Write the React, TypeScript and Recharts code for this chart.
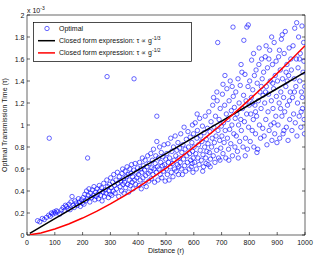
import { ScatterChart, Scatter, XAxis, YAxis, Legend } from "recharts"

const FONT = "'Liberation Sans', Arial, Helvetica, sans-serif"

const distanceTicks = [0, 100, 200, 300, 400, 500, 600, 700, 800, 900, 1000]
const timeTicks = [0, 0.2, 0.4, 0.6, 0.8, 1, 1.2, 1.4, 1.6, 1.8, 2]

const seriesNames = ["Optimal", "Closed form expression: τ ∝ g", "Closed form expression: τ ∝ g"]
const seriesExponents = ["", "-1/3", "-1/2"]
const seriesColors = ["#0000ff", "#000000", "#ff0000"]

// optimal transmission time, in units of 1e-3, by distance
const optimalNear: [number, number][] = [
  [38, 0.13], [46, 0.12], [55, 0.15], [62, 0.14], [70, 0.16], [78, 0.18], [84, 0.17], [88, 0.2], [93, 0.19], [98, 0.21],
  [80, 0.88], [102, 0.2], [106, 0.22], [110, 0.21], [118, 0.19], [125, 0.23], [130, 0.25], [134, 0.22], [138, 0.27],
  [143, 0.26], [148, 0.24], [151, 0.28], [155, 0.23], [158, 0.3], [162, 0.35], [166, 0.27], [170, 0.25], [173, 0.31],
  [177, 0.29], [181, 0.27], [185, 0.33], [189, 0.3], [192, 0.26], [196, 0.32], [199, 0.29],
]
const optimal200: [number, number][] = [
  [202, 0.34], [205, 0.28], [208, 0.37], [211, 0.31], [214, 0.4], [217, 0.33], [218, 0.7], [220, 0.36], [223, 0.42],
  [226, 0.3], [229, 0.38], [232, 0.34], [235, 0.41], [238, 0.36], [241, 0.44], [244, 0.32], [247, 0.39], [249, 0.35],
  [252, 0.42], [254, 0.37], [257, 0.33], [260, 0.45], [262, 0.4], [265, 0.36], [268, 0.43], [270, 0.31], [273, 0.39],
  [276, 0.47], [278, 0.35], [281, 0.41], [284, 0.38], [287, 0.5], [288, 1.44], [290, 0.44], [293, 0.34], [295, 0.4],
  [297, 0.46], [299, 0.37],
]
const optimal300: [number, number][] = [
  [301, 0.52], [303, 0.43], [305, 0.36], [308, 0.48], [310, 0.4], [312, 0.55], [315, 0.45], [317, 0.38], [320, 0.5],
  [322, 0.42], [325, 0.57], [327, 0.47], [330, 0.35], [332, 0.53], [335, 0.44], [337, 0.49], [340, 0.4], [342, 0.56],
  [345, 0.46], [347, 0.51], [349, 0.38], [344, 0.6], [351, 0.48], [353, 0.58], [355, 0.43], [357, 0.53], [360, 0.62],
  [362, 0.46], [364, 0.55], [366, 0.39], [368, 0.5], [370, 0.6], [372, 0.45], [374, 0.56], [376, 0.64], [378, 0.48],
  [380, 0.53], [382, 0.42], [384, 0.59], [385, 1.42], [387, 0.5], [389, 0.65], [391, 0.46], [393, 0.57], [395, 0.52],
  [398, 0.61],
]
const optimal400: [number, number][] = [
  [401, 0.55], [403, 0.45], [405, 0.66], [407, 0.5], [409, 0.6], [411, 0.42], [413, 0.57], [415, 0.7], [417, 0.52],
  [419, 0.63], [421, 0.47], [423, 0.59], [425, 0.68], [427, 0.54], [429, 0.44], [431, 0.62], [434, 0.72], [436, 0.56],
  [438, 0.49], [440, 0.65], [443, 0.58], [445, 0.74], [447, 0.51], [449, 0.61], [451, 0.68], [453, 0.55], [455, 0.78],
  [457, 0.6], [459, 0.48], [461, 0.65], [463, 0.72], [465, 0.57], [467, 0.85], [467, 1.08], [469, 0.62], [471, 0.5],
  [473, 0.7], [475, 0.6], [477, 0.8], [479, 0.55], [481, 0.66], [483, 0.75], [485, 0.52], [487, 0.63], [489, 0.71],
  [491, 0.58], [493, 0.82], [495, 0.64], [497, 0.49], [499, 0.69],
]
const optimal500: [number, number][] = [
  [501, 0.6], [503, 0.74], [505, 0.55], [507, 0.83], [509, 0.66], [511, 0.5], [513, 0.7], [515, 0.62], [517, 0.88],
  [519, 0.57], [521, 0.76], [523, 0.65], [525, 0.53], [527, 0.8], [529, 0.68], [531, 0.6], [533, 0.9], [535, 0.72],
  [537, 0.58], [539, 0.77], [541, 0.64], [543, 0.84], [545, 0.55], [547, 0.7], [549, 0.79], [546, 0.62], [551, 0.66],
  [553, 0.92], [555, 0.6], [557, 0.75], [559, 0.55], [561, 0.82], [563, 0.69], [565, 0.98], [567, 0.63], [569, 0.78],
  [571, 0.58], [573, 0.87], [575, 0.72], [577, 0.66], [579, 0.94], [581, 0.8], [583, 0.6], [585, 0.74], [587, 0.89],
  [589, 0.68], [591, 0.62], [593, 0.84], [595, 1.0], [596, 0.76], [597, 0.57], [598, 0.7], [599, 0.92], [594, 0.65],
]
const optimal600: [number, number][] = [
  [601, 0.8], [603, 0.66], [605, 1.02], [607, 0.74], [609, 0.6], [611, 0.88], [613, 0.95], [615, 0.7], [617, 0.82],
  [619, 0.64], [621, 1.06], [623, 0.77], [625, 0.9], [627, 0.68], [629, 0.85], [631, 0.99], [633, 0.73], [635, 0.62],
  [637, 0.93], [639, 0.8], [641, 1.08], [643, 0.7], [645, 0.87], [647, 0.76], [649, 0.97], [632, 0.58], [644, 0.65],
  [612, 1.1], [651, 0.83], [652, 0.64], [654, 1.12], [656, 0.75], [658, 0.94], [660, 0.69], [662, 1.03], [664, 0.8],
  [666, 0.88], [668, 1.18], [670, 0.72], [672, 0.98], [674, 0.84], [676, 0.66], [678, 1.08], [680, 0.9], [682, 0.77],
  [684, 1.22], [686, 1.75], [687, 0.95], [689, 0.7], [691, 1.05], [693, 0.86], [695, 1.15], [697, 0.79], [699, 0.99],
  [683, 1.3], [671, 1.25], [659, 0.62], [694, 0.68],
]
const optimal700: [number, number][] = [
  [701, 0.9], [703, 1.28], [705, 0.74], [705, 1.37], [707, 1.02], [709, 0.84], [711, 1.18], [713, 0.95], [715, 0.7],
  [717, 1.1], [719, 1.33], [721, 0.88], [723, 1.05], [725, 0.78], [727, 1.22], [729, 0.96], [731, 1.4], [733, 0.83],
  [735, 1.13], [737, 1.0], [739, 0.72], [741, 1.89], [742, 1.26], [744, 0.92], [746, 1.16], [748, 0.8], [749, 1.06],
  [738, 1.35], [726, 0.68], [712, 1.45], [751, 1.3], [753, 0.9], [755, 1.1], [757, 0.76], [759, 1.42], [761, 1.0],
  [763, 1.2], [765, 0.85], [767, 1.36], [769, 1.05], [771, 0.95], [773, 1.48], [775, 1.15], [777, 0.8], [779, 1.27],
  [780, 1.77], [782, 1.03], [784, 1.46], [786, 0.88], [788, 1.22], [790, 1.1], [791, 1.89], [793, 0.78], [795, 1.35],
  [797, 0.98], [799, 1.18], [796, 1.91], [785, 0.72], [770, 1.55], [760, 0.7],
]
const optimal800: [number, number][] = [
  [801, 1.4], [803, 0.85], [805, 1.1], [807, 1.25], [808, 1.59], [810, 0.95], [812, 1.32], [814, 1.05], [816, 0.8],
  [818, 1.45], [820, 1.18], [822, 0.92], [824, 1.5], [826, 1.08], [828, 1.38], [830, 0.78], [832, 1.22], [834, 1.55],
  [836, 1.0], [838, 1.3], [840, 0.88], [842, 1.15], [844, 1.6], [846, 1.42], [848, 0.97], [849, 1.27], [815, 1.65],
  [835, 1.7], [827, 0.75], [811, 1.2], [843, 1.35], [822, 1.12], [851, 1.48], [853, 0.9], [855, 1.2], [857, 1.62],
  [859, 1.05], [861, 1.35], [863, 0.82], [865, 1.52], [867, 1.12], [869, 1.28], [871, 0.95], [873, 1.68], [875, 1.4],
  [877, 1.0], [879, 1.22], [881, 0.86], [883, 1.55], [885, 1.15], [887, 1.33], [889, 1.75], [891, 0.92], [893, 1.45],
  [895, 1.08], [897, 1.26], [899, 0.84], [870, 1.6], [880, 1.8], [860, 1.72], [888, 1.02], [896, 1.58], [858, 1.3],
  [884, 1.38],
]
const optimal900: [number, number][] = [
  [901, 1.4], [903, 1.0], [905, 1.62], [907, 1.2], [909, 0.88], [911, 1.5], [913, 1.3], [915, 1.78], [917, 1.08],
  [919, 1.42], [921, 0.92], [923, 1.25], [925, 1.65], [927, 1.12], [929, 1.85], [931, 1.35], [933, 0.98], [935, 1.55],
  [937, 1.18], [939, 0.86], [941, 1.45], [943, 1.7], [945, 1.05], [947, 1.3], [949, 1.6], [912, 1.15], [924, 0.95],
  [936, 1.4], [944, 1.22], [918, 1.82], [908, 1.68], [932, 1.48], [951, 1.5], [953, 0.95], [955, 1.25], [957, 1.72],
  [959, 1.1], [961, 1.42], [963, 1.88], [965, 1.02], [967, 1.35], [969, 1.6], [971, 0.9], [973, 1.2], [975, 1.52],
  [977, 1.8], [979, 1.08], [981, 1.4], [983, 1.65], [985, 0.98], [987, 1.3], [989, 1.9], [991, 1.15], [993, 1.48],
  [995, 1.75], [997, 1.05], [999, 1.35], [970, 1.93], [996, 1.58], [990, 1.25], [980, 1.6], [962, 1.3], [986, 1.12],
  [998, 0.92],
]

// closed form curves
const cubeRootCurve: [number, number][] = [
  [10, 0.015], [100, 0.148], [200, 0.296], [300, 0.444], [400, 0.592], [500, 0.74], [600, 0.888], [700, 1.036],
  [800, 1.184], [900, 1.332], [1000, 1.48],
]
const squareRootCurve: [number, number][] = [
  [10, 0.002], [50, 0.019], [100, 0.054], [150, 0.1], [200, 0.154], [250, 0.215], [300, 0.283], [350, 0.356],
  [400, 0.435], [450, 0.519], [500, 0.608], [550, 0.702], [600, 0.799], [650, 0.901], [700, 1.007], [750, 1.117],
  [800, 1.231], [850, 1.348], [900, 1.469], [950, 1.593], [1000, 1.72],
]

const toPoints = (pairs: [number, number][]) => pairs.map(([r, t]) => ({ r, t }))

const optimalPoints = toPoints([
  ...optimalNear, ...optimal200, ...optimal300, ...optimal400, ...optimal500,
  ...optimal600, ...optimal700, ...optimal800, ...optimal900,
])

const Ring = (props: any) => (
  <circle cx={props.cx} cy={props.cy} r={2.2} fill="none" stroke="#0000ff" strokeWidth={0.6} />
)
const NoDot = () => <g />

const BottomTick = (props: any) => (
  <g>
    <line x1={props.x} y1={props.y} x2={props.x} y2={props.y - 3} stroke="#000" strokeWidth={0.6} />
    <text x={props.x} y={props.y + 10} textAnchor="middle" fontSize={7} fontFamily={FONT} fill="#111">
      {props.payload.value}
    </text>
  </g>
)
const TopTick = (props: any) => (
  <line x1={props.x} y1={props.y} x2={props.x} y2={props.y + 3} stroke="#000" strokeWidth={0.6} />
)
const LeftTick = (props: any) => (
  <g>
    <line x1={props.x} y1={props.y} x2={props.x + 3} y2={props.y} stroke="#000" strokeWidth={0.6} />
    <text x={props.x - 2.5} y={props.y + 2.5} textAnchor="end" fontSize={7} fontFamily={FONT} fill="#111">
      {props.payload.value}
    </text>
  </g>
)
const RightTick = (props: any) => (
  <line x1={props.x} y1={props.y} x2={props.x - 3} y2={props.y} stroke="#000" strokeWidth={0.6} />
)

const YLabel = (props: any) => {
  const { x, y, width, height } = props.viewBox
  const ax = x + width
  const cy = y + height / 2
  return (
    <g fontFamily={FONT} fill="#111">
      <text x={ax - 20} y={cy} transform={`rotate(-90 ${ax - 20} ${cy})`} textAnchor="middle" fontSize={7}>
        Optimal Transmission Time (τ)
      </text>
      <text x={ax} y={y - 2} fontSize={7}>
        x 10<tspan dy={-3} fontSize={5}>-3</tspan>
      </text>
    </g>
  )
}
const XLabel = (props: any) => {
  const { x, y, width } = props.viewBox
  return (
    <text x={x + width / 2} y={y + 18} textAnchor="middle" fontSize={7} fontFamily={FONT} fill="#111">
      Distance (r)
    </text>
  )
}

const renderLegend = (props: any) => {
  const payload = props.payload || []
  return (
    <svg width={159} height={40} style={{ display: "block" }} fontFamily={FONT}>
      <rect x={0.5} y={0.5} width={158} height={39} fill="#fff" stroke="#000" strokeWidth={0.7} />
      {payload.map((_: any, i: number) => {
        const cy = 6.5 + i * 12.2
        return (
          <g key={i}>
            {i === 0 ? (
              <circle cx={14} cy={cy} r={2.2} fill="none" stroke={seriesColors[0]} strokeWidth={0.6} />
            ) : (
              <line x1={5} x2={22} y1={cy} y2={cy} stroke={seriesColors[i]} strokeWidth={1.5} />
            )}
            <text x={26} y={cy + 2.5} fontSize={7} fill="#111">
              {seriesNames[i]}
              {seriesExponents[i] && (
                <tspan dy={-3} fontSize={5}>
                  {seriesExponents[i]}
                </tspan>
              )}
            </text>
          </g>
        )
      })}
    </svg>
  )
}

export default function App() {
  return (
    <div style={{ position: "absolute", left: 0, top: 0, width: 316, height: 256, background: "#fff" }}>
      <ScatterChart width={316} height={256} margin={{ top: 14, right: 10, bottom: 20, left: 26 }}>
        <XAxis
          dataKey="r"
          type="number"
          domain={[0, 1000]}
          ticks={distanceTicks}
          interval={0}
          height={1}
          tickSize={0}
          tickMargin={0}
          tick={<BottomTick />}
          stroke="#000"
          strokeWidth={0.6}
          label={<XLabel />}
          allowDataOverflow
        />
        <XAxis
          xAxisId="top"
          orientation="top"
          type="number"
          domain={[0, 1000]}
          ticks={distanceTicks}
          interval={0}
          height={1}
          tickSize={0}
          tickMargin={0}
          tick={<TopTick />}
          stroke="#000"
          strokeWidth={0.6}
          allowDataOverflow
        />
        <YAxis
          dataKey="t"
          type="number"
          domain={[0, 2]}
          ticks={timeTicks}
          interval={0}
          width={1}
          tickSize={0}
          tickMargin={0}
          tick={<LeftTick />}
          stroke="#000"
          strokeWidth={0.6}
          label={<YLabel />}
          allowDataOverflow
        />
        <YAxis
          yAxisId="right"
          orientation="right"
          type="number"
          domain={[0, 2]}
          ticks={timeTicks}
          interval={0}
          width={1}
          tickSize={0}
          tickMargin={0}
          tick={<RightTick />}
          stroke="#000"
          strokeWidth={0.6}
          allowDataOverflow
        />
        <Legend
          content={renderLegend}
          layout="horizontal"
          verticalAlign="middle"
          align="center"
          wrapperStyle={{ top: 22, left: 33, width: 159, height: 40 }}
        />
        <Scatter
          name={seriesNames[0]}
          data={optimalPoints}
          shape={<Ring />}
          fill={seriesColors[0]}
          isAnimationActive={false}
        />
        <Scatter
          name={seriesNames[1]}
          data={toPoints(cubeRootCurve)}
          line={{ stroke: seriesColors[1], strokeWidth: 1.5 }}
          shape={<NoDot />}
          fill={seriesColors[1]}
          stroke={seriesColors[1]}
          legendType="line"
          isAnimationActive={false}
        />
        <Scatter
          name={seriesNames[2]}
          data={toPoints(squareRootCurve)}
          line={{ stroke: seriesColors[2], strokeWidth: 1.5 }}
          shape={<NoDot />}
          fill={seriesColors[2]}
          stroke={seriesColors[2]}
          legendType="line"
          isAnimationActive={false}
        />
      </ScatterChart>
    </div>
  )
}
